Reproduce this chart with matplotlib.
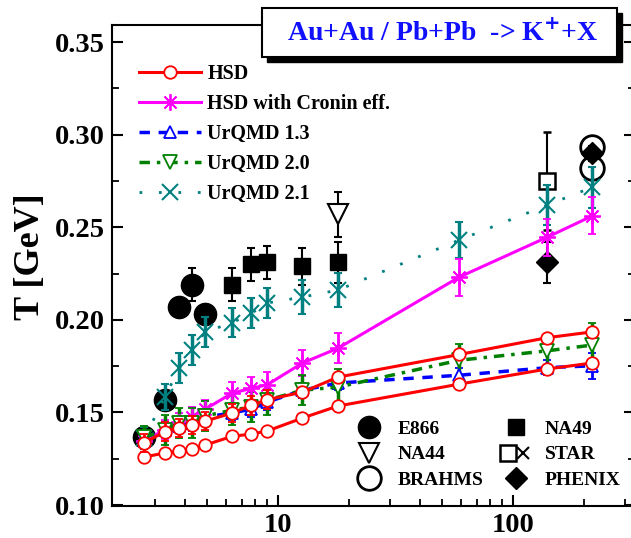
import matplotlib
matplotlib.use('Agg')
import matplotlib.pyplot as plt
from matplotlib.lines import Line2D
from matplotlib.patches import Rectangle
from matplotlib.legend_handler import HandlerTuple
from matplotlib.ticker import MultipleLocator, FixedLocator, NullFormatter

plt.rcParams['font.family'] = 'Liberation Serif'
plt.rcParams['font.weight'] = 'bold'

# model energies sqrt(s) [GeV]
sqrt_s = [2.7, 3.3, 3.8, 4.3, 4.9, 6.4, 7.7, 9.0, 12.7, 18.0, 59.0, 140.0, 217.0]

hsd_low = [0.1260, 0.1281, 0.1292, 0.1302, 0.1324, 0.1372, 0.1383, 0.1400,
           0.1470, 0.1535, 0.1653, 0.1735, 0.1767]
hsd_up = [0.1336, 0.1397, 0.1417, 0.1432, 0.1453, 0.1498, 0.1539, 0.1569,
          0.1610, 0.1691, 0.1813, 0.1904, 0.1935]
hsd_up_err = [0.005, 0.005, 0.005, 0.005, 0.005, 0.005, 0.005, 0.005,
              0.0, 0.0, 0.0, 0.0, 0.0]
cronin = [0.1346, 0.1407, 0.1447, 0.1478, 0.1518, 0.1605, 0.1630, 0.1650,
          0.1767, 0.1847, 0.2231, 0.2447, 0.2561]
cronin_err = [0.004, 0.005, 0.005, 0.005, 0.005, 0.006, 0.006, 0.007,
              0.007, 0.008, 0.010, 0.010, 0.010]
urqmd13 = [0.1366, 0.1407, 0.1427, 0.1442, 0.1475, 0.1498, 0.1518, 0.1556,
           0.1620, 0.1659, 0.1701, 0.1742, 0.1752]
urqmd13_err = [0.004, 0.004, 0.004, 0.004, 0.004, 0.004, 0.004, 0.004,
               0.004, 0.004, 0.004, 0.004, 0.007]
urqmd20 = [0.1366, 0.1405, 0.1443, 0.1443, 0.1481, 0.1513, 0.1529, 0.1567,
           0.1620, 0.1637, 0.1782, 0.1833, 0.1864]
urqmd20_err = [0.006, 0.008, 0.008, 0.008, 0.008, 0.008, 0.008, 0.008,
               0.008, 0.0097, 0.009, 0.009, 0.0118]
urqmd21 = [0.1362, 0.1583, 0.1740, 0.1837, 0.1935, 0.1985, 0.2036, 0.2091,
           0.2123, 0.2161, 0.2431, 0.2620, 0.2716]
urqmd21_err = [0.006, 0.007, 0.008, 0.008, 0.008, 0.008, 0.008, 0.008,
               0.009, 0.009, 0.0097, 0.011, 0.011]

# experimental data
e866_x = [2.7, 3.3, 3.8, 4.3, 4.9]
e866_T = [0.1366, 0.1567, 0.207, 0.219, 0.203]
e866_err = [0.003, 0.004, 0.005, 0.009, 0.005]
na49_x = [6.4, 7.7, 9.0, 12.7, 18.0]
na49_T = [0.219, 0.230, 0.231, 0.229, 0.231]
na49_err = [0.009, 0.009, 0.009, 0.010, 0.011]
na44_x = [18.0]
na44_T = [0.257]
na44_err = [0.012]
star_x = [140.0]
star_T = [0.275]
star_err = [0.0264]
phenix_x = [140.0, 217.0]
phenix_T = [0.231, 0.290]
phenix_err = [0.011, 0.004]
brahms_x = [217.0, 217.0]
brahms_T = [0.2933, 0.2820]

W, H = 631, 538
fig = plt.figure(figsize=(W / 100, H / 100), dpi=100)
ax = fig.add_axes([112 / W, 1 - 506 / H, (635 - 112) / W, 481 / H])

RED, MAG, BLUE, GREEN, TEAL = '#ff0000', '#ff00ff', '#0000ff', '#008000', '#008080'
ASTER = (8, 2, 0)

# experimental points
eb = dict(ecolor='black', elinewidth=1.5, capsize=3, capthick=1.5, ls='none', zorder=2)
ax.errorbar(e866_x, e866_T, yerr=e866_err, marker='o', ms=16, color='black', **eb)
ax.errorbar(na49_x, na49_T, yerr=na49_err, marker='s', ms=12, color='black', **eb)
ax.errorbar(na44_x, na44_T, yerr=na44_err, marker='v', ms=14, mfc='white',
            mec='black', mew=1.5, **eb)
ax.errorbar(star_x, star_T, yerr=star_err, marker='s', ms=12, mfc='white',
            mec='black', mew=1.8, **eb)
ax.plot(star_x, star_T, ls='none', marker='x', ms=9, mec='black', mew=1.5, zorder=2)
ax.errorbar(phenix_x, phenix_T, yerr=phenix_err, marker='D', ms=11, color='black', **eb)
ax.plot(brahms_x, brahms_T, ls='none', marker='o', ms=17, mfc='none', mec='black',
        mew=2, zorder=2)

# model curves
ax.plot(sqrt_s, hsd_low, color=RED, lw=2.2, marker='o', ms=9, mfc='white',
        mec=RED, mew=1.3, zorder=5)
ax.errorbar(sqrt_s, hsd_up, yerr=hsd_up_err, color=RED, lw=2.2, marker='o', ms=9,
            mfc='white', mec=RED, mew=1.3, capsize=3, elinewidth=2, capthick=2, zorder=5)
ax.errorbar(sqrt_s, cronin, yerr=cronin_err, color=MAG, lw=2.2, marker=ASTER, ms=12,
            mew=1.3, capsize=3, elinewidth=2, capthick=2, zorder=4)
ax.errorbar(sqrt_s, urqmd13, yerr=urqmd13_err, color=BLUE, lw=2.5, ls=(0, (3, 2.5)),
            marker='^', ms=9, mfc='white', mec=BLUE, mew=1.3, capsize=3,
            elinewidth=2, capthick=2, zorder=4)
ax.errorbar(sqrt_s, urqmd20, yerr=urqmd20_err, color=GREEN, lw=2.5,
            ls=(0, (3, 2, 1, 2)), marker='v', ms=10, mfc='white', mec=GREEN, mew=1.3,
            capsize=3, elinewidth=2.5, capthick=2, zorder=4)
ax.errorbar(sqrt_s, urqmd21, yerr=urqmd21_err, color=TEAL, lw=2, ls=(0, (1, 6)),
            marker='x', ms=12, mew=1.5, capsize=3, elinewidth=2.5, capthick=2, zorder=3)

ax.set_xscale('log')
ax.set_xlim(1.966, 330)
ax.set_ylim(0.0995, 0.3592)
ax.xaxis.set_major_locator(FixedLocator([10, 100]))
ax.xaxis.set_minor_locator(FixedLocator([3, 4, 5, 6, 7, 8, 9, 20, 30, 40, 50, 60, 70, 80, 90, 200, 300]))
ax.xaxis.set_minor_formatter(NullFormatter())
ax.set_xticklabels(['10', '100'])
ax.yaxis.set_major_locator(MultipleLocator(0.05))
ax.yaxis.set_minor_locator(MultipleLocator(0.025))
ax.yaxis.set_major_formatter(plt.FuncFormatter(lambda v, p: f'{v:.2f}'))
ax.tick_params(which='major', direction='in', length=8, width=1.5, labelsize=20.5, pad=5,
               right=True)
ax.tick_params(which='minor', direction='in', length=5, width=1.3, right=True)
for s in ax.spines.values():
    s.set_linewidth(1.5)
ax.set_ylabel('T [GeV]', fontsize=26, fontweight='bold')
ax.yaxis.set_label_coords(-0.124, 0.518)

# model legend
model_handles = [
    Line2D([], [], color=RED, lw=2.2, marker='o', ms=9, mfc='white', mec=RED, mew=1.3),
    Line2D([], [], color=MAG, lw=2.2, marker=ASTER, ms=12, mew=1.3),
    Line2D([], [], color=BLUE, lw=2.5, ls=(0, (3, 2.5)), marker='^', ms=9, mfc='white', mec=BLUE, mew=1.3),
    Line2D([], [], color=GREEN, lw=2.5, ls=(0, (3, 2, 1, 2)), marker='v', ms=10, mfc='white', mec=GREEN, mew=1.3),
    Line2D([], [], color=TEAL, lw=2, ls=(0, (1, 6)), marker='x', ms=12, mew=1.5),
]
model_labels = ['HSD', 'HSD with Cronin eff.', 'UrQMD 1.3', 'UrQMD 2.0', 'UrQMD 2.1']
leg1 = ax.legend(model_handles, model_labels, loc='upper left',
                 bbox_to_anchor=(139 / W, 1 - 64 / H), bbox_transform=fig.transFigure,
                 frameon=False, handlelength=3.1, handletextpad=0.3, labelspacing=0.5,
                 borderpad=0, borderaxespad=0, numpoints=1,
                 prop=dict(family='Liberation Serif', weight='bold', size=14.5))
ax.add_artist(leg1)

# data legend
star_h = (Line2D([], [], ls='none', marker='s', ms=12, mfc='white', mec='black', mew=1.8),
          Line2D([], [], ls='none', marker='x', ms=9, mec='black', mew=1.5))
data_handles = [
    Line2D([], [], ls='none', marker='o', ms=16, color='black'),
    Line2D([], [], ls='none', marker='v', ms=14, mfc='white', mec='black', mew=1.5),
    Line2D([], [], ls='none', marker='o', ms=17, mfc='none', mec='black', mew=2),
    Line2D([], [], ls='none', marker='s', ms=12, color='black'),
    star_h,
    Line2D([], [], ls='none', marker='D', ms=11, color='black'),
]
data_labels = ['E866', 'NA44', 'BRAHMS', 'NA49', 'STAR', 'PHENIX']
ax.legend(data_handles, data_labels, loc='upper left', ncol=2,
          bbox_to_anchor=(354 / W, 1 - 420 / H), bbox_transform=fig.transFigure,
          frameon=False, handlelength=1.5, handletextpad=0.75, labelspacing=0.42,
          columnspacing=0.9, borderpad=0, borderaxespad=0, numpoints=1,
          handler_map={tuple: HandlerTuple(ndivide=None, pad=0)},
          prop=dict(family='Liberation Serif', weight='bold', size=14))

# title box with shadow
fig.patches.append(Rectangle((267 / W, 1 - 62 / H), 355 / W, 49 / H, transform=fig.transFigure,
                             facecolor='black', edgecolor='black', zorder=10))
fig.patches.append(Rectangle((262 / W, 1 - 57 / H), 355 / W, 49 / H, transform=fig.transFigure,
                             facecolor='white', edgecolor='black', lw=1.5, zorder=11))
fig.text(443 / W, 1 - 33 / H, 'Au+Au / Pb+Pb  -> K$^{\\mathbf{+}}$+X', color='#1010ff',
         fontsize=20, fontweight='bold', ha='center', va='center', zorder=12)

fig.savefig('out.png', dpi=100)
